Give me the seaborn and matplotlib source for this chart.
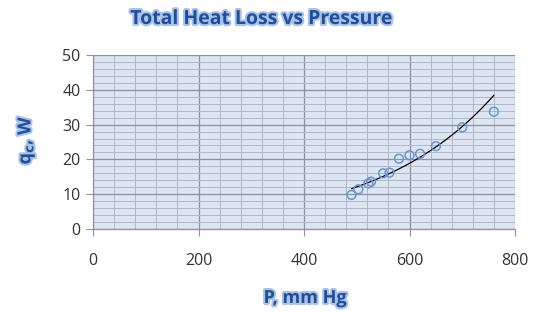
import numpy as np
import pandas as pd
import matplotlib
matplotlib.use("Agg")
import matplotlib.pyplot as plt
import matplotlib.patheffects as pe
from matplotlib.ticker import MultipleLocator
import seaborn as sns

pressure = [490, 503, 522, 527, 550, 562, 580, 600, 620, 650, 700, 760]
heat_loss = [9.8, 11.4, 13.1, 13.6, 16.0, 16.2, 20.2, 21.2, 21.6, 23.8, 29.2, 33.7]
x_ticks = [0, 200, 400, 600, 800]
y_ticks = [0, 10, 20, 30, 40, 50]

sns.set_theme(style="white")
plt.rcParams['font.family'] = ['Open Sans', 'DejaVu Sans']

df = pd.DataFrame({"P": pressure, "q": heat_loss})
# exponential trendline (Excel-style, fit in log space)
b, lna = np.polyfit(df["P"], np.log(df["q"]), 1)
xt = np.linspace(min(pressure), max(pressure), 100)
trend = pd.DataFrame({"P": xt, "q": np.exp(lna) * np.exp(b * xt)})

fig = plt.figure(figsize=(5.36, 3.12), dpi=100)
ax = fig.add_axes([93/536, 1-229/312, (515-93)/536, (229-55)/312])
ax.set_facecolor('#DCE6F2')

ax.set_xlim(0, 800)
ax.set_ylim(0, 50)
ax.xaxis.set_major_locator(MultipleLocator(200))
ax.xaxis.set_minor_locator(MultipleLocator(40))
ax.yaxis.set_major_locator(MultipleLocator(10))
ax.yaxis.set_minor_locator(MultipleLocator(2))
ax.grid(which='major', color='#8C939E', linewidth=0.9)
ax.grid(which='minor', color='#B0B8C4', linewidth=0.7)
ax.set_axisbelow(True)

sns.lineplot(data=trend, x="P", y="q", ax=ax, color='black', linewidth=0.9)
sns.scatterplot(data=df, x="P", y="q", ax=ax, s=40, facecolor='none',
                edgecolor='#6F93CC', linewidth=1.1, marker='o', zorder=3)

for s in ['top', 'right']:
    ax.spines[s].set_visible(False)
for s in ['left', 'bottom']:
    ax.spines[s].set_color('#8C939E')
    ax.spines[s].set_linewidth(0.9)

ax.tick_params(axis='both', which='major', length=5, width=0.8, color='#8C939E',
               labelsize=11.5, labelcolor='#333333', direction='out', pad=4)
ax.tick_params(axis='x', pad=12)
ax.tick_params(which='minor', length=0)
ax.set_xticks(x_ticks)
ax.set_yticks(y_ticks)
ax.tick_params(left=True, bottom=True)

ax.set_xlabel('')
ax.set_ylabel('')

effects = [pe.withStroke(linewidth=3, foreground='#A9C2E6')]
title_color = '#1F4E9E'
fig.text(262/536, 1-19/312, 'Total Heat Loss vs Pressure', ha='center', va='center',
         fontsize=14, fontweight='bold', color=title_color, path_effects=effects)
fig.text(305/536, 1-298/312, 'P, mm Hg', ha='center', va='center',
         fontsize=13, fontweight='bold', color=title_color, path_effects=effects)
fig.text(26/536, 1-140/312, r'q$_\mathbf{c}$, W', ha='center', va='center', rotation=90,
         fontsize=13, fontweight='bold', color=title_color, path_effects=effects)

fig.savefig('out.png', dpi=100)
